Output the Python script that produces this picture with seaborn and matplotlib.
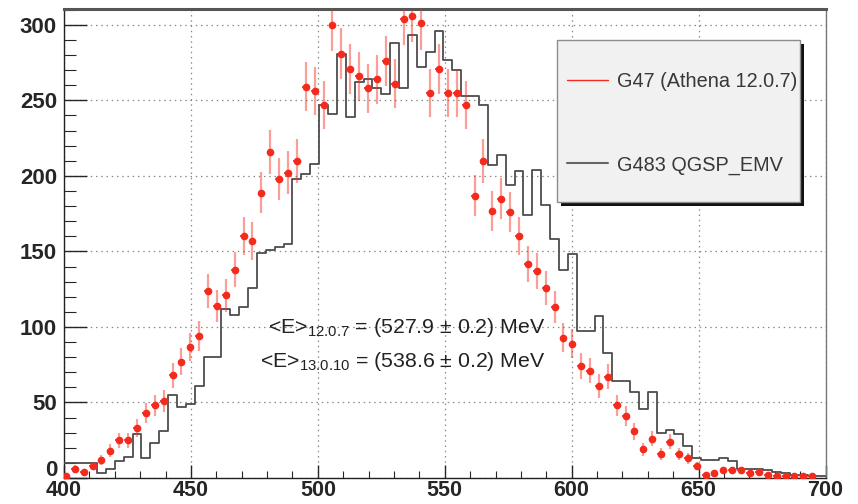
import numpy as np
import pandas as pd
import matplotlib
matplotlib.use("Agg")
import matplotlib.pyplot as plt
import matplotlib.transforms as mtransforms
from matplotlib.patches import Rectangle
from matplotlib.lines import Line2D
from matplotlib.ticker import MultipleLocator
import seaborn as sns

# Histogram binning: 3.5 MeV bins from 399 to 700 MeV
bin_width = 3.5
bin_range = (399.0, 700.0)
bin_edges = np.arange(bin_range[0], bin_range[1] + 0.01, bin_width)
bin_centers = 0.5 * (bin_edges[:-1] + bin_edges[1:])

# G47 (Athena 12.0.7): entries per bin
g47_counts = [
    1, 6, 4, 8, 12, 18, 25, 25, 33, 43, 48, 51, 68, 77, 87, 94, 124, 114, 121, 138,
    160, 157, 189, 216, 198, 202, 210, 259, 256, 247, 300, 281, 271, 266, 258, 264,
    276, 261, 304, 306, 301, 255, 271, 255, 255, 247, 187, 210, 177, 185, 176, 160,
    142, 137, 126, 113, 93, 89, 74, 71, 61, 67, 48, 41, 31, 19, 26, 16, 24, 16,
    13, 8, 2, 3, 5, 5, 5, 3, 4, 2, 1, 1, 1, 1, 1, 0,
]

# G483 QGSP_EMV: normalised entries per bin
g483_counts = [
    10, 10, 10, 10, 3, 6, 11, 14, 29, 13, 23, 31, 55, 47, 49, 61, 80, 80, 112, 108,
    113, 126, 149, 151, 153, 155, 198, 201, 208, 247, 241, 281, 239, 262, 264, 258,
    254, 288, 258, 293, 272, 282, 296, 277, 270, 253, 253, 247, 207, 214, 194, 203,
    174, 204, 181, 158, 138, 148, 97, 97, 107, 83, 64, 64, 57, 46, 57, 30, 32, 29,
    21, 13, 12, 12, 13, 11, 6, 6, 6, 5, 4, 3, 2, 2, 1, 1,
]

x_ticks = [400, 450, 500, 550, 600, 650, 700]
y_ticks = [0, 50, 100, 150, 200, 250, 300]
legend_labels = ["G47 (Athena 12.0.7)", "G483 QGSP_EMV"]
mean_lines = [
    "<E>$_{12.0.7}$ = (527.9 \u00b1 0.2) MeV",
    "<E>$_{13.0.10}$ = (538.6 \u00b1 0.2) MeV",
]

sim = pd.DataFrame({"energy": bin_centers, "entries": np.asarray(g483_counts, float)})

sns.set_style("white")
plt.rcParams["font.family"] = ["Liberation Sans", "DejaVu Sans"]
plt.rcParams["mathtext.default"] = "regular"

red = "#f42a1c"
grey_line = "#4d4d4d"

fig = plt.figure(figsize=(8.58, 5.04), dpi=100)
ax = fig.add_axes([64 / 858, 26 / 504, 761.5 / 858, 469 / 504])

# simulation histogram as a step outline
sns.histplot(data=sim, x="energy", weights="entries", binwidth=bin_width,
             binrange=bin_range, element="step", fill=False, color=grey_line,
             linewidth=1.3, ax=ax, zorder=3)

# data points with Poisson errors
counts = np.asarray(g47_counts, dtype=float)
mask = counts > 0
xc = bin_centers[mask]
yc = counts[mask]
ax.errorbar(xc, yc, yerr=np.sqrt(yc), fmt="none", ecolor=red, elinewidth=1.6,
            alpha=0.45, capsize=0, zorder=4)
ax.errorbar(xc, yc, xerr=bin_width * 0.42, fmt="o", ms=4.5, color=red,
            ecolor=red, elinewidth=1.2, capsize=0, zorder=5)

ax.set_xlim(400, 700)
ax.set_ylim(0, 310.5)
ax.set_xlabel("")
ax.set_ylabel("")
ax.set_xticks(x_ticks)
ax.set_yticks(y_ticks)
ax.xaxis.set_minor_locator(MultipleLocator(10))
ax.yaxis.set_minor_locator(MultipleLocator(10))

ax.grid(True, which="major", color="#8a8a8a", linestyle=(0, (1.2, 3)), linewidth=0.9)
ax.set_axisbelow(True)

ax.tick_params(axis="x", which="major", direction="in", length=9.5, width=1.0,
               labelsize=15.5, pad=1.5, bottom=True, top=False)
ax.tick_params(axis="x", which="minor", direction="in", length=5, width=0.8,
               bottom=True, top=False)
ax.tick_params(axis="y", which="major", direction="in", length=16.5, width=1.0,
               labelsize=16, pad=5, left=True, right=False)
ax.tick_params(axis="y", which="minor", direction="in", length=8.5, width=0.8,
               left=True, right=False)
for lab in ax.get_xticklabels() + ax.get_yticklabels():
    lab.set_fontweight("bold")
# lift the zero label off the corner so it clears the first x label
zero_shift = mtransforms.ScaledTranslation(0, 7 / 72, fig.dpi_scale_trans)
ylabels = ax.get_yticklabels()
ylabels[0].set_transform(ylabels[0].get_transform() + zero_shift)

for side in ("left", "bottom"):
    ax.spines[side].set_color("#222222")
    ax.spines[side].set_linewidth(1.0)
ax.spines["top"].set_color("#555555")
ax.spines["top"].set_linewidth(2.2)
ax.spines["right"].set_color("#777777")
ax.spines["right"].set_linewidth(1.0)

# legend panel with a drop shadow
box = (0.6474, 0.5885, 0.3191, 0.3455)
shadow_tr = mtransforms.offset_copy(ax.transAxes, fig=fig, x=4, y=-4, units="dots")
ax.add_patch(Rectangle(box[:2], box[2], box[3], transform=shadow_tr,
                       facecolor="#111111", edgecolor="none", zorder=8, clip_on=False))
ax.add_patch(Rectangle(box[:2], box[2], box[3], transform=ax.transAxes,
                       facecolor="#f1f1f1", edgecolor="#8c8c8c", linewidth=1.0,
                       zorder=9, clip_on=False))
handles = [Line2D([], [], color=red, linewidth=1.0),
           Line2D([], [], color="#666666", linewidth=1.5)]
leg = ax.legend(handles, legend_labels, loc="upper left",
                bbox_to_anchor=(0.660, 0.866), frameon=False, fontsize=14.3,
                handlelength=2.08, handletextpad=0.47, labelspacing=3.25,
                borderpad=0, borderaxespad=0)
leg.set_zorder(10)
for t in leg.get_texts():
    t.set_color("#383838")

# mean energies
ax.text(589.7, 95.8, mean_lines[0], ha="right", va="baseline", fontsize=15.3,
        color="#222222", zorder=6)
ax.text(589.7, 73.7, mean_lines[1], ha="right", va="baseline", fontsize=15.3,
        color="#222222", zorder=6)

fig.savefig("out.png", dpi=100)
